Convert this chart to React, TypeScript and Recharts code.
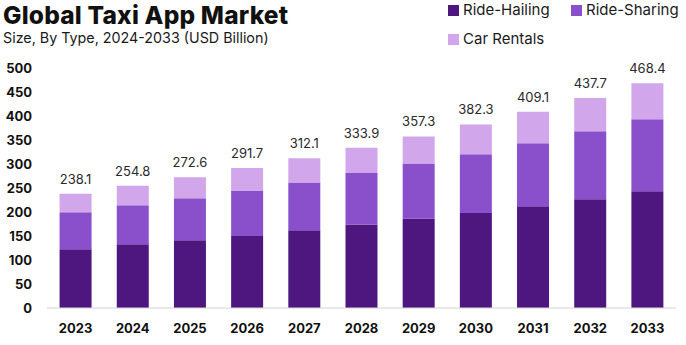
import React from 'react';
import { BarChart, Bar, XAxis, YAxis, LabelList } from 'recharts';

const years = ['2023', '2024', '2025', '2026', '2027', '2028', '2029', '2030', '2031', '2032', '2033'];
const rideHailing = [122.3, 132.7, 141.0, 149.8, 161.9, 173.7, 186.2, 197.9, 211.9, 226.5, 243.1];
const rideSharing = [77.1, 81.3, 87.5, 93.7, 99.3, 107.5, 114.6, 122.3, 131.2, 141.6, 150.0];
const carRentals = [38.7, 40.8, 44.1, 48.2, 50.9, 52.7, 56.5, 62.1, 66.0, 69.6, 75.3];
const totals = [238.1, 254.8, 272.6, 291.7, 312.1, 333.9, 357.3, 382.3, 409.1, 437.7, 468.4];
const yTicks = [0, 50, 100, 150, 200, 250, 300, 350, 400, 450, 500];

const seriesNames = ['Ride-Hailing', 'Ride-Sharing', 'Car Rentals'];
const colors = ['#4E1780', '#8A50CC', '#D2A6EA'];

const data = years.map((y, i) => ({
  year: y,
  rh: rideHailing[i],
  rs: rideSharing[i],
  cr: carRentals[i],
  total: totals[i],
}));

const FONT = 'Inter, "Noto Sans", sans-serif';

const legendPos = [
  { left: 448, top: 1 },
  { left: 571, top: 1 },
  { left: 448, top: 30 },
];

export default function App() {
  return (
    <div style={{ position: 'absolute', left: 0, top: 0, width: 686, height: 345, background: '#fff', fontFamily: FONT }}>
      <BarChart
        width={686}
        height={345}
        data={data}
        margin={{ top: 68, right: 10, bottom: 7, left: 0 }}
        barCategoryGap="22%"
      >
        <XAxis
          dataKey="year"
          axisLine={{ stroke: '#d4d4d4' }}
          tickLine={false}
          height={30}
          tickSize={0}
          tickMargin={16}
          tick={{ fill: '#111', fontSize: 13, fontWeight: 700, fontFamily: FONT }}
          interval={0}
        />
        <YAxis
          domain={[0, 500]}
          ticks={yTicks}
          axisLine={false}
          tickLine={false}
          width={47}
          tickSize={0}
          tickMargin={15}
          interval={0}
          tick={{ fill: '#111', fontSize: 13, fontWeight: 700, fontFamily: FONT }}
        />
        <Bar dataKey="rh" stackId="a" fill={colors[0]} name={seriesNames[0]} isAnimationActive={false} />
        <Bar dataKey="rs" stackId="a" fill={colors[1]} name={seriesNames[1]} isAnimationActive={false} />
        <Bar dataKey="cr" stackId="a" fill={colors[2]} name={seriesNames[2]} isAnimationActive={false}>
          <LabelList
            dataKey="total"
            position="top"
            offset={10}
            style={{ fill: '#2a2a2a', fontSize: 13, fontFamily: FONT }}
          />
        </Bar>
      </BarChart>
      <div style={{ position: 'absolute', left: 3, top: 0, fontSize: 24.5, fontWeight: 800, color: '#111', whiteSpace: 'nowrap', letterSpacing: 0.2 }}>
        Global Taxi App Market
      </div>
      <div style={{ position: 'absolute', left: 3, top: 29, fontSize: 14.3, lineHeight: '17px', color: '#1a1a1a', whiteSpace: 'nowrap' }}>
        Size, By Type, 2024-2033 (USD Billion)
      </div>
      {seriesNames.map((n, i) => (
        <div
          key={n}
          style={{ position: 'absolute', left: legendPos[i].left, top: legendPos[i].top, display: 'flex', alignItems: 'center', whiteSpace: 'nowrap' }}
        >
          <div style={{ width: 11, height: 11, background: colors[i], marginRight: 4 }} />
          <span style={{ fontSize: 15, lineHeight: '18px', color: '#1a1a1a' }}>{n}</span>
        </div>
      ))}
    </div>
  );
}
